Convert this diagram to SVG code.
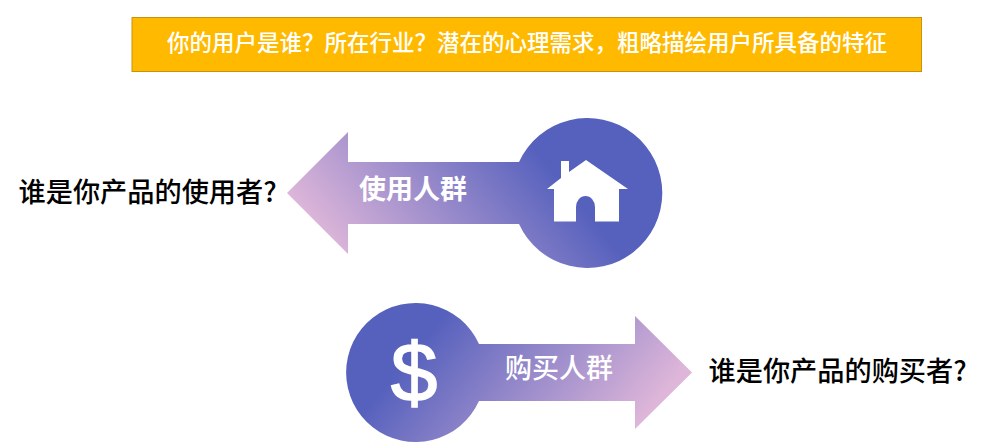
<svg xmlns="http://www.w3.org/2000/svg" width="985" height="446" viewBox="0 0 985 446">
<style>
text{font-family:"Noto Sans CJK SC",sans-serif}
.w{fill:#fff;font-weight:700;font-size:27px}
.k{fill:#000;font-size:27.200px;font-weight:500}
</style>
<defs>
<linearGradient id="g1" gradientUnits="userSpaceOnUse" x1="325" y1="240" x2="494" y2="100"><stop offset="0" stop-color="#DEB6D9"/><stop offset="1" stop-color="#5661BD"/></linearGradient>
<linearGradient id="g2" gradientUnits="userSpaceOnUse" x1="650" y1="410" x2="481" y2="270"><stop offset="0" stop-color="#DEB6D9"/><stop offset="1" stop-color="#5661BD"/></linearGradient>
</defs>
<rect width="985" height="446" fill="#fff"/>
<g id="banner">
<rect x="132" y="17.500" width="789.500" height="54" fill="#FFBA00" stroke="#C8920E" stroke-width="1"/>
<text x="167" y="51" font-size="22.500" font-weight="500" fill="#fff">你的用户是谁？所在行业？潜在的心理需求，粗略描绘用户所具备的特征</text>
</g>
<g id="users">
<path fill="url(#g1)" d="M287 193L348 132V162H519A75 75 0 1 1 519 224H348V254Z"/>
<path fill="#fff" d="M547 189L561 178V161H569V172L586 160L628 189H619V221.500H595V207A9.500 11 0 0 0 576 207V221.500H554V189Z"/>
<text class="w" x="359" y="199">使用人群</text>
<text class="k" x="18.500" y="202">谁是你产品的使用者?</text>
</g>
<g id="buyers">
<path fill="url(#g2)" d="M692 372.500L635 316V344H479A69.500 69.500 0 1 0 479 401H635V429Z"/>
<text x="414" y="401" font-size="84" text-anchor="middle" fill="#fff" stroke="#fff" stroke-width="1.500" style="font-family:'Liberation Sans',sans-serif">$</text>
<text class="w" x="505" y="378" style="font-weight:500">购买人群</text>
<text class="k" x="708.500" y="381">谁是你产品的购买者?</text>
</g>
</svg>
